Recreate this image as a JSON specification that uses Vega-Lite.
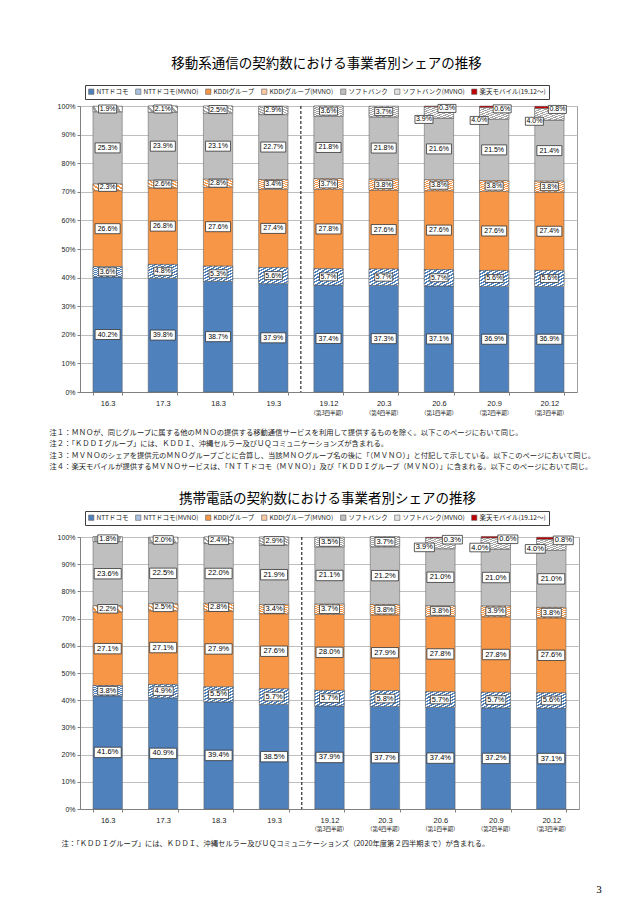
{
  "$schema": "https://vega.github.io/schema/vega-lite/v6.json",
  "background": "white",
  "padding": {"left": 48, "top": 56, "right": 5, "bottom": 5},
  "spacing": 20,
  "resolve": {"scale": {"color": "independent", "x": "independent", "y": "independent"}, "legend": {"color": "independent"}},
  "title": {"text": "3", "orient": "bottom", "anchor": "end", "fontSize": 11, "font": "Liberation Serif", "fontWeight": "normal", "offset": 37, "dx": 5, "color": "#000"},
  "datasets": {
    "m": [
      {"p": "16.3", "k": "NTTドコモ", "v": 0.402}, {"p": "16.3", "k": "NTTドコモ(MVNO)", "v": 0.036}, {"p": "16.3", "k": "KDDIグループ", "v": 0.266}, {"p": "16.3", "k": "KDDIグループ(MVNO)", "v": 0.023}, {"p": "16.3", "k": "ソフトバンク", "v": 0.253}, {"p": "16.3", "k": "ソフトバンク(MVNO)", "v": 0.019},
      {"p": "17.3", "k": "NTTドコモ", "v": 0.398}, {"p": "17.3", "k": "NTTドコモ(MVNO)", "v": 0.048}, {"p": "17.3", "k": "KDDIグループ", "v": 0.268}, {"p": "17.3", "k": "KDDIグループ(MVNO)", "v": 0.026}, {"p": "17.3", "k": "ソフトバンク", "v": 0.239}, {"p": "17.3", "k": "ソフトバンク(MVNO)", "v": 0.021},
      {"p": "18.3", "k": "NTTドコモ", "v": 0.387}, {"p": "18.3", "k": "NTTドコモ(MVNO)", "v": 0.053}, {"p": "18.3", "k": "KDDIグループ", "v": 0.276}, {"p": "18.3", "k": "KDDIグループ(MVNO)", "v": 0.028}, {"p": "18.3", "k": "ソフトバンク", "v": 0.231}, {"p": "18.3", "k": "ソフトバンク(MVNO)", "v": 0.025},
      {"p": "19.3", "k": "NTTドコモ", "v": 0.379}, {"p": "19.3", "k": "NTTドコモ(MVNO)", "v": 0.056}, {"p": "19.3", "k": "KDDIグループ", "v": 0.274}, {"p": "19.3", "k": "KDDIグループ(MVNO)", "v": 0.034}, {"p": "19.3", "k": "ソフトバンク", "v": 0.227}, {"p": "19.3", "k": "ソフトバンク(MVNO)", "v": 0.029},
      {"p": "19.12", "k": "NTTドコモ", "v": 0.374}, {"p": "19.12", "k": "NTTドコモ(MVNO)", "v": 0.057}, {"p": "19.12", "k": "KDDIグループ", "v": 0.278}, {"p": "19.12", "k": "KDDIグループ(MVNO)", "v": 0.037}, {"p": "19.12", "k": "ソフトバンク", "v": 0.218}, {"p": "19.12", "k": "ソフトバンク(MVNO)", "v": 0.036},
      {"p": "20.3", "k": "NTTドコモ", "v": 0.373}, {"p": "20.3", "k": "NTTドコモ(MVNO)", "v": 0.057}, {"p": "20.3", "k": "KDDIグループ", "v": 0.276}, {"p": "20.3", "k": "KDDIグループ(MVNO)", "v": 0.038}, {"p": "20.3", "k": "ソフトバンク", "v": 0.218}, {"p": "20.3", "k": "ソフトバンク(MVNO)", "v": 0.037},
      {"p": "20.6", "k": "NTTドコモ", "v": 0.371}, {"p": "20.6", "k": "NTTドコモ(MVNO)", "v": 0.057}, {"p": "20.6", "k": "KDDIグループ", "v": 0.276}, {"p": "20.6", "k": "KDDIグループ(MVNO)", "v": 0.038}, {"p": "20.6", "k": "ソフトバンク", "v": 0.216}, {"p": "20.6", "k": "ソフトバンク(MVNO)", "v": 0.039}, {"p": "20.6", "k": "楽天モバイル(19.12〜)", "v": 0.003},
      {"p": "20.9", "k": "NTTドコモ", "v": 0.369}, {"p": "20.9", "k": "NTTドコモ(MVNO)", "v": 0.056}, {"p": "20.9", "k": "KDDIグループ", "v": 0.276}, {"p": "20.9", "k": "KDDIグループ(MVNO)", "v": 0.038}, {"p": "20.9", "k": "ソフトバンク", "v": 0.215}, {"p": "20.9", "k": "ソフトバンク(MVNO)", "v": 0.040}, {"p": "20.9", "k": "楽天モバイル(19.12〜)", "v": 0.006},
      {"p": "20.12", "k": "NTTドコモ", "v": 0.369}, {"p": "20.12", "k": "NTTドコモ(MVNO)", "v": 0.056}, {"p": "20.12", "k": "KDDIグループ", "v": 0.274}, {"p": "20.12", "k": "KDDIグループ(MVNO)", "v": 0.038}, {"p": "20.12", "k": "ソフトバンク", "v": 0.214}, {"p": "20.12", "k": "ソフトバンク(MVNO)", "v": 0.040}, {"p": "20.12", "k": "楽天モバイル(19.12〜)", "v": 0.008}
    ],
    "t": [
      {"p": "16.3", "k": "NTTドコモ", "v": 0.416}, {"p": "16.3", "k": "NTTドコモ(MVNO)", "v": 0.038}, {"p": "16.3", "k": "KDDIグループ", "v": 0.271}, {"p": "16.3", "k": "KDDIグループ(MVNO)", "v": 0.022}, {"p": "16.3", "k": "ソフトバンク", "v": 0.236}, {"p": "16.3", "k": "ソフトバンク(MVNO)", "v": 0.018},
      {"p": "17.3", "k": "NTTドコモ", "v": 0.409}, {"p": "17.3", "k": "NTTドコモ(MVNO)", "v": 0.049}, {"p": "17.3", "k": "KDDIグループ", "v": 0.271}, {"p": "17.3", "k": "KDDIグループ(MVNO)", "v": 0.025}, {"p": "17.3", "k": "ソフトバンク", "v": 0.225}, {"p": "17.3", "k": "ソフトバンク(MVNO)", "v": 0.020},
      {"p": "18.3", "k": "NTTドコモ", "v": 0.394}, {"p": "18.3", "k": "NTTドコモ(MVNO)", "v": 0.055}, {"p": "18.3", "k": "KDDIグループ", "v": 0.279}, {"p": "18.3", "k": "KDDIグループ(MVNO)", "v": 0.028}, {"p": "18.3", "k": "ソフトバンク", "v": 0.220}, {"p": "18.3", "k": "ソフトバンク(MVNO)", "v": 0.024},
      {"p": "19.3", "k": "NTTドコモ", "v": 0.385}, {"p": "19.3", "k": "NTTドコモ(MVNO)", "v": 0.057}, {"p": "19.3", "k": "KDDIグループ", "v": 0.276}, {"p": "19.3", "k": "KDDIグループ(MVNO)", "v": 0.034}, {"p": "19.3", "k": "ソフトバンク", "v": 0.219}, {"p": "19.3", "k": "ソフトバンク(MVNO)", "v": 0.029},
      {"p": "19.12", "k": "NTTドコモ", "v": 0.379}, {"p": "19.12", "k": "NTTドコモ(MVNO)", "v": 0.057}, {"p": "19.12", "k": "KDDIグループ", "v": 0.280}, {"p": "19.12", "k": "KDDIグループ(MVNO)", "v": 0.037}, {"p": "19.12", "k": "ソフトバンク", "v": 0.211}, {"p": "19.12", "k": "ソフトバンク(MVNO)", "v": 0.035},
      {"p": "20.3", "k": "NTTドコモ", "v": 0.377}, {"p": "20.3", "k": "NTTドコモ(MVNO)", "v": 0.058}, {"p": "20.3", "k": "KDDIグループ", "v": 0.279}, {"p": "20.3", "k": "KDDIグループ(MVNO)", "v": 0.038}, {"p": "20.3", "k": "ソフトバンク", "v": 0.212}, {"p": "20.3", "k": "ソフトバンク(MVNO)", "v": 0.037},
      {"p": "20.6", "k": "NTTドコモ", "v": 0.374}, {"p": "20.6", "k": "NTTドコモ(MVNO)", "v": 0.057}, {"p": "20.6", "k": "KDDIグループ", "v": 0.278}, {"p": "20.6", "k": "KDDIグループ(MVNO)", "v": 0.038}, {"p": "20.6", "k": "ソフトバンク", "v": 0.210}, {"p": "20.6", "k": "ソフトバンク(MVNO)", "v": 0.039}, {"p": "20.6", "k": "楽天モバイル(19.12〜)", "v": 0.003},
      {"p": "20.9", "k": "NTTドコモ", "v": 0.372}, {"p": "20.9", "k": "NTTドコモ(MVNO)", "v": 0.057}, {"p": "20.9", "k": "KDDIグループ", "v": 0.278}, {"p": "20.9", "k": "KDDIグループ(MVNO)", "v": 0.039}, {"p": "20.9", "k": "ソフトバンク", "v": 0.210}, {"p": "20.9", "k": "ソフトバンク(MVNO)", "v": 0.040}, {"p": "20.9", "k": "楽天モバイル(19.12〜)", "v": 0.006},
      {"p": "20.12", "k": "NTTドコモ", "v": 0.371}, {"p": "20.12", "k": "NTTドコモ(MVNO)", "v": 0.056}, {"p": "20.12", "k": "KDDIグループ", "v": 0.276}, {"p": "20.12", "k": "KDDIグループ(MVNO)", "v": 0.038}, {"p": "20.12", "k": "ソフトバンク", "v": 0.210}, {"p": "20.12", "k": "ソフトバンク(MVNO)", "v": 0.040}, {"p": "20.12", "k": "楽天モバイル(19.12〜)", "v": 0.008}
    ],
    "sub": [
      {"p": "19.12", "s": "（第3四半期）"}, {"p": "20.3", "s": "（第4四半期）"}, {"p": "20.6", "s": "（第1四半期）"}, {"p": "20.9", "s": "（第2四半期）"}, {"p": "20.12", "s": "（第3四半期）"}
    ],
    "div": [{"p": "19.12"}]
  },
  "vconcat": [
    {
      "title": {"text": "移動系通信の契約数における事業者別シェアの推移", "fontSize": 13.5, "font": "Noto Sans CJK JP", "fontWeight": "normal", "color": "#000", "frame": "group", "anchor": "middle", "offset": 14, "dx": -2},
      "width": 497,
      "height": 286,
      "data": {"name": "m"},
      "transform": [{"stack": "v", "groupby": ["p"], "as": ["y0", "y1"]}, {"calculate": "(datum.y0+datum.y1)/2", "as": "mid"}],
      "encoding": {
        "x": {"field": "p", "type": "nominal",
          "scale": {"domain": ["16.3", "17.3", "18.3", "19.3", "19.12", "20.3", "20.6", "20.9", "20.12"], "paddingInner": 0.47, "paddingOuter": 0.235},
          "axis": {"labelAngle": 0, "labelFontSize": 7.5, "labelFont": "Liberation Sans", "labelColor": "#222", "tickBand": "extent", "tickSize": 3, "tickColor": "#808080", "domainColor": "#808080", "labelPadding": 4,
            "title": ["注１：ＭＮＯが、同じグループに属する他のＭＮＯの提供する移動通信サービスを利用して提供するものを除く。以下このページにおいて同じ。", "注２：「ＫＤＤＩグループ」には、ＫＤＤＩ、沖縄セルラー及びＵＱコミュニケーションズが含まれる。", "注３：ＭＶＮＯのシェアを提供元のＭＮＯグループごとに合算し、当該ＭＮＯグループ名の後に「（ＭＶＮＯ）」と付記して示している。以下このページにおいて同じ。", "注４：楽天モバイルが提供するＭＶＮＯサービスは、「ＮＴＴドコモ（ＭＶＮＯ）」及び「ＫＤＤＩグループ（ＭＶＮＯ）」に含まれる。以下このページにおいて同じ。"],
            "titleAlign": "left", "titleAnchor": "start", "titleX": -31, "titleY": 36, "titleBaseline": "top", "titleFontSize": 7.3, "titleFont": "Noto Sans CJK JP", "titleFontWeight": "normal", "titleColor": "#222", "titleLineHeight": 11.5}}
      },
      "layer": [
        {
          "mark": {"type": "bar", "stroke": "#5a5a5a", "strokeWidth": 0.5},
          "encoding": {
            "y": {"field": "y0", "type": "quantitative", "title": null, "scale": {"domain": [0, 1], "nice": false},
              "axis": {"format": "%", "values": [0, 0.1, 0.2, 0.3, 0.4, 0.5, 0.6, 0.7, 0.8, 0.9, 1], "tickCount": 20, "labelOverlap": false, "labelFontSize": 7, "labelFont": "Liberation Sans", "labelColor": "#222", "tickSize": 3, "tickColor": "#808080", "domainColor": "#808080", "gridColor": "#bfbfbf", "labelPadding": 2}},
            "y2": {"field": "y1"},
            "color": {"field": "k", "type": "nominal", "title": null,
              "scale": {"domain": ["NTTドコモ", "NTTドコモ(MVNO)", "KDDIグループ", "KDDIグループ(MVNO)", "ソフトバンク", "ソフトバンク(MVNO)", "楽天モバイル(19.12〜)"], "range": ["#4f81bd", "#a9c1e0", "#f79646", "#fbcaa2", "#bfbfbf", "#e2e2e2", "#c00000"]},
              "legend": {"orient": "none", "legendX": 5, "legendY": -21, "direction": "horizontal", "columns": 7, "strokeColor": "#404040", "fillColor": "#ffffff", "padding": 3, "labelFontSize": 6.5, "labelFont": "Noto Sans CJK JP", "labelColor": "#222", "symbolType": "square", "symbolSize": 28, "symbolStrokeColor": "#606060", "symbolStrokeWidth": 0.6, "columnPadding": 5, "labelOffset": 2, "labelLimit": 200}}
          }
        },
        {
          "transform": [{"filter": "indexof(datum.k, 'MVNO') >= 0"}],
          "mark": {"type": "bar", "stroke": "#5a5a5a", "strokeWidth": 0.5},
          "encoding": {
            "y": {"field": "y0", "type": "quantitative", "title": null},
            "y2": {"field": "y1"},
            "fill": {
              "condition": [
                {"test": "datum.k === 'NTTドコモ(MVNO)'", "value": {"gradient": "linear", "x1": 0, "y1": 0, "x2": 1, "y2": 1, "stops": [
                  {"offset": 0, "color": "#4f81bd"}, {"offset": 0.05, "color": "#4f81bd"}, {"offset": 0.05, "color": "#ffffff"}, {"offset": 0.1, "color": "#ffffff"},
                  {"offset": 0.1, "color": "#4f81bd"}, {"offset": 0.15, "color": "#4f81bd"}, {"offset": 0.15, "color": "#ffffff"}, {"offset": 0.2, "color": "#ffffff"},
                  {"offset": 0.2, "color": "#4f81bd"}, {"offset": 0.25, "color": "#4f81bd"}, {"offset": 0.25, "color": "#ffffff"}, {"offset": 0.3, "color": "#ffffff"},
                  {"offset": 0.3, "color": "#4f81bd"}, {"offset": 0.35, "color": "#4f81bd"}, {"offset": 0.35, "color": "#ffffff"}, {"offset": 0.4, "color": "#ffffff"},
                  {"offset": 0.4, "color": "#4f81bd"}, {"offset": 0.45, "color": "#4f81bd"}, {"offset": 0.45, "color": "#ffffff"}, {"offset": 0.5, "color": "#ffffff"},
                  {"offset": 0.5, "color": "#4f81bd"}, {"offset": 0.55, "color": "#4f81bd"}, {"offset": 0.55, "color": "#ffffff"}, {"offset": 0.6, "color": "#ffffff"},
                  {"offset": 0.6, "color": "#4f81bd"}, {"offset": 0.65, "color": "#4f81bd"}, {"offset": 0.65, "color": "#ffffff"}, {"offset": 0.7, "color": "#ffffff"},
                  {"offset": 0.7, "color": "#4f81bd"}, {"offset": 0.75, "color": "#4f81bd"}, {"offset": 0.75, "color": "#ffffff"}, {"offset": 0.8, "color": "#ffffff"},
                  {"offset": 0.8, "color": "#4f81bd"}, {"offset": 0.85, "color": "#4f81bd"}, {"offset": 0.85, "color": "#ffffff"}, {"offset": 0.9, "color": "#ffffff"},
                  {"offset": 0.9, "color": "#4f81bd"}, {"offset": 0.95, "color": "#4f81bd"}, {"offset": 0.95, "color": "#ffffff"}, {"offset": 1, "color": "#ffffff"}]}},
                {"test": "datum.k === 'KDDIグループ(MVNO)'", "value": {"gradient": "linear", "x1": 0, "y1": 0, "x2": 1, "y2": 1, "stops": [
                  {"offset": 0, "color": "#f79646"}, {"offset": 0.05, "color": "#f79646"}, {"offset": 0.05, "color": "#ffffff"}, {"offset": 0.1, "color": "#ffffff"},
                  {"offset": 0.1, "color": "#f79646"}, {"offset": 0.15, "color": "#f79646"}, {"offset": 0.15, "color": "#ffffff"}, {"offset": 0.2, "color": "#ffffff"},
                  {"offset": 0.2, "color": "#f79646"}, {"offset": 0.25, "color": "#f79646"}, {"offset": 0.25, "color": "#ffffff"}, {"offset": 0.3, "color": "#ffffff"},
                  {"offset": 0.3, "color": "#f79646"}, {"offset": 0.35, "color": "#f79646"}, {"offset": 0.35, "color": "#ffffff"}, {"offset": 0.4, "color": "#ffffff"},
                  {"offset": 0.4, "color": "#f79646"}, {"offset": 0.45, "color": "#f79646"}, {"offset": 0.45, "color": "#ffffff"}, {"offset": 0.5, "color": "#ffffff"},
                  {"offset": 0.5, "color": "#f79646"}, {"offset": 0.55, "color": "#f79646"}, {"offset": 0.55, "color": "#ffffff"}, {"offset": 0.6, "color": "#ffffff"},
                  {"offset": 0.6, "color": "#f79646"}, {"offset": 0.65, "color": "#f79646"}, {"offset": 0.65, "color": "#ffffff"}, {"offset": 0.7, "color": "#ffffff"},
                  {"offset": 0.7, "color": "#f79646"}, {"offset": 0.75, "color": "#f79646"}, {"offset": 0.75, "color": "#ffffff"}, {"offset": 0.8, "color": "#ffffff"},
                  {"offset": 0.8, "color": "#f79646"}, {"offset": 0.85, "color": "#f79646"}, {"offset": 0.85, "color": "#ffffff"}, {"offset": 0.9, "color": "#ffffff"},
                  {"offset": 0.9, "color": "#f79646"}, {"offset": 0.95, "color": "#f79646"}, {"offset": 0.95, "color": "#ffffff"}, {"offset": 1, "color": "#ffffff"}]}}
              ],
              "value": {"gradient": "linear", "x1": 0, "y1": 0, "x2": 1, "y2": 1, "stops": [
                  {"offset": 0, "color": "#a6a6a6"}, {"offset": 0.05, "color": "#a6a6a6"}, {"offset": 0.05, "color": "#ffffff"}, {"offset": 0.1, "color": "#ffffff"},
                  {"offset": 0.1, "color": "#a6a6a6"}, {"offset": 0.15, "color": "#a6a6a6"}, {"offset": 0.15, "color": "#ffffff"}, {"offset": 0.2, "color": "#ffffff"},
                  {"offset": 0.2, "color": "#a6a6a6"}, {"offset": 0.25, "color": "#a6a6a6"}, {"offset": 0.25, "color": "#ffffff"}, {"offset": 0.3, "color": "#ffffff"},
                  {"offset": 0.3, "color": "#a6a6a6"}, {"offset": 0.35, "color": "#a6a6a6"}, {"offset": 0.35, "color": "#ffffff"}, {"offset": 0.4, "color": "#ffffff"},
                  {"offset": 0.4, "color": "#a6a6a6"}, {"offset": 0.45, "color": "#a6a6a6"}, {"offset": 0.45, "color": "#ffffff"}, {"offset": 0.5, "color": "#ffffff"},
                  {"offset": 0.5, "color": "#a6a6a6"}, {"offset": 0.55, "color": "#a6a6a6"}, {"offset": 0.55, "color": "#ffffff"}, {"offset": 0.6, "color": "#ffffff"},
                  {"offset": 0.6, "color": "#a6a6a6"}, {"offset": 0.65, "color": "#a6a6a6"}, {"offset": 0.65, "color": "#ffffff"}, {"offset": 0.7, "color": "#ffffff"},
                  {"offset": 0.7, "color": "#a6a6a6"}, {"offset": 0.75, "color": "#a6a6a6"}, {"offset": 0.75, "color": "#ffffff"}, {"offset": 0.8, "color": "#ffffff"},
                  {"offset": 0.8, "color": "#a6a6a6"}, {"offset": 0.85, "color": "#a6a6a6"}, {"offset": 0.85, "color": "#ffffff"}, {"offset": 0.9, "color": "#ffffff"},
                  {"offset": 0.9, "color": "#a6a6a6"}, {"offset": 0.95, "color": "#a6a6a6"}, {"offset": 0.95, "color": "#ffffff"}, {"offset": 1, "color": "#ffffff"}]}
            }
          }
        },
        {
          "data": {"name": "div"},
          "mark": {"type": "rule", "strokeDash": [3, 2], "color": "#000000", "strokeWidth": 1, "xOffset": -13},
          "encoding": {"x": {"field": "p", "type": "nominal", "bandPosition": 0}}
        },
        {
          "transform": [{"filter": "datum.k !== '楽天モバイル(19.12〜)' && !(datum.k === 'ソフトバンク(MVNO)' && indexof(['20.6', '20.9', '20.12'], datum.p) >= 0)"}],
          "mark": {"type": "point", "filled": true, "fill": "#ffffff", "stroke": "#333333", "strokeWidth": 0.8, "opacity": 1, "size": 4},
          "encoding": {
            "y": {"field": "mid", "type": "quantitative", "title": null},
            "shape": {"condition": {"test": "datum.v >= 0.1", "value": "M-12.5,-5L12.5,-5L12.5,5L-12.5,5Z"}, "value": "M-9,-4L9,-4L9,4L-9,4Z"}
          }
        },
        {
          "transform": [{"filter": "datum.k !== '楽天モバイル(19.12〜)' && !(datum.k === 'ソフトバンク(MVNO)' && indexof(['20.6', '20.9', '20.12'], datum.p) >= 0)"}],
          "mark": {"type": "text", "fontSize": 7, "font": "Liberation Sans", "color": "#000000", "baseline": "middle"},
          "encoding": {
            "y": {"field": "mid", "type": "quantitative", "title": null},
            "text": {"field": "v", "type": "quantitative", "format": ".1%"}
          }
        },
        {
          "transform": [{"filter": "datum.k === 'ソフトバンク(MVNO)' && indexof(['20.6', '20.9', '20.12'], datum.p) >= 0"}],
          "mark": {"type": "point", "filled": true, "fill": "#ffffff", "stroke": "#333333", "strokeWidth": 0.8, "opacity": 1, "size": 4, "shape": "M-9,-4L9,-4L9,4L-9,4Z", "xOffset": -15, "yOffset": 7},
          "encoding": {"y": {"field": "mid", "type": "quantitative", "title": null}}
        },
        {
          "transform": [{"filter": "datum.k === 'ソフトバンク(MVNO)' && indexof(['20.6', '20.9', '20.12'], datum.p) >= 0"}],
          "mark": {"type": "text", "fontSize": 7, "font": "Liberation Sans", "color": "#000000", "baseline": "middle", "dx": -15, "dy": 7},
          "encoding": {
            "y": {"field": "mid", "type": "quantitative", "title": null},
            "text": {"field": "v", "type": "quantitative", "format": ".1%"}
          }
        },
        {
          "transform": [{"filter": "datum.k === '楽天モバイル(19.12〜)'"}],
          "mark": {"type": "point", "filled": true, "fill": "#ffffff", "stroke": "#333333", "strokeWidth": 0.8, "opacity": 1, "size": 4, "shape": "M-9,-4L9,-4L9,4L-9,4Z", "xOffset": 8, "yOffset": 2},
          "encoding": {"y": {"field": "mid", "type": "quantitative", "title": null}}
        },
        {
          "transform": [{"filter": "datum.k === '楽天モバイル(19.12〜)'"}],
          "mark": {"type": "text", "fontSize": 7, "font": "Liberation Sans", "color": "#000000", "baseline": "middle", "dx": 8, "dy": 2},
          "encoding": {
            "y": {"field": "mid", "type": "quantitative", "title": null},
            "text": {"field": "v", "type": "quantitative", "format": ".1%"}
          }
        },
        {
          "data": {"name": "sub"},
          "mark": {"type": "text", "fontSize": 5.5, "font": "Noto Sans CJK JP", "color": "#222222", "baseline": "middle", "dy": 21},
          "encoding": {
            "y": {"datum": 0, "type": "quantitative"},
            "text": {"field": "s"}
          }
        }
      ]
    },
    {
      "title": {"text": "携帯電話の契約数における事業者別シェアの推移", "fontSize": 13.5, "font": "Noto Sans CJK JP", "fontWeight": "normal", "color": "#000", "frame": "group", "anchor": "middle", "offset": 5, "dx": -2},
      "width": 499,
      "height": 272,
      "data": {"name": "t"},
      "transform": [{"stack": "v", "groupby": ["p"], "as": ["y0", "y1"]}, {"calculate": "(datum.y0+datum.y1)/2", "as": "mid"}],
      "encoding": {
        "x": {"field": "p", "type": "nominal",
          "scale": {"domain": ["16.3", "17.3", "18.3", "19.3", "19.12", "20.3", "20.6", "20.9", "20.12"], "paddingInner": 0.47, "paddingOuter": 0.235},
          "axis": {"labelAngle": 0, "labelFontSize": 7.5, "labelFont": "Liberation Sans", "labelColor": "#222", "tickBand": "extent", "tickSize": 3, "tickColor": "#808080", "domainColor": "#808080", "labelPadding": 4,
            "title": "注：「ＫＤＤＩグループ」には、ＫＤＤＩ、沖縄セルラー及びＵＱコミュニケーションズ（2020年度第２四半期まで）が含まれる。",
            "titleAlign": "left", "titleAnchor": "start", "titleX": -19, "titleY": 30, "titleBaseline": "top", "titleFontSize": 7.3, "titleFont": "Noto Sans CJK JP", "titleFontWeight": "normal", "titleColor": "#222", "titleLineHeight": 11.5}}
      },
      "layer": [
        {
          "mark": {"type": "bar", "stroke": "#5a5a5a", "strokeWidth": 0.5},
          "encoding": {
            "y": {"field": "y0", "type": "quantitative", "title": null, "scale": {"domain": [0, 1], "nice": false},
              "axis": {"format": "%", "values": [0, 0.1, 0.2, 0.3, 0.4, 0.5, 0.6, 0.7, 0.8, 0.9, 1], "tickCount": 20, "labelOverlap": false, "labelFontSize": 7, "labelFont": "Liberation Sans", "labelColor": "#222", "tickSize": 3, "tickColor": "#808080", "domainColor": "#808080", "gridColor": "#bfbfbf", "labelPadding": 2}},
            "y2": {"field": "y1"},
            "color": {"field": "k", "type": "nominal", "title": null,
              "scale": {"domain": ["NTTドコモ", "NTTドコモ(MVNO)", "KDDIグループ", "KDDIグループ(MVNO)", "ソフトバンク", "ソフトバンク(MVNO)", "楽天モバイル(19.12〜)"], "range": ["#4f81bd", "#a9c1e0", "#f79646", "#fbcaa2", "#bfbfbf", "#e2e2e2", "#c00000"]},
              "legend": {"orient": "none", "legendX": 5, "legendY": -26, "direction": "horizontal", "columns": 7, "strokeColor": "#404040", "fillColor": "#ffffff", "padding": 3, "labelFontSize": 6.5, "labelFont": "Noto Sans CJK JP", "labelColor": "#222", "symbolType": "square", "symbolSize": 28, "symbolStrokeColor": "#606060", "symbolStrokeWidth": 0.6, "columnPadding": 5, "labelOffset": 2, "labelLimit": 200}}
          }
        },
        {
          "transform": [{"filter": "indexof(datum.k, 'MVNO') >= 0"}],
          "mark": {"type": "bar", "stroke": "#5a5a5a", "strokeWidth": 0.5},
          "encoding": {
            "y": {"field": "y0", "type": "quantitative", "title": null},
            "y2": {"field": "y1"},
            "fill": {
              "condition": [
                {"test": "datum.k === 'NTTドコモ(MVNO)'", "value": {"gradient": "linear", "x1": 0, "y1": 0, "x2": 1, "y2": 1, "stops": [
                  {"offset": 0, "color": "#4f81bd"}, {"offset": 0.05, "color": "#4f81bd"}, {"offset": 0.05, "color": "#ffffff"}, {"offset": 0.1, "color": "#ffffff"},
                  {"offset": 0.1, "color": "#4f81bd"}, {"offset": 0.15, "color": "#4f81bd"}, {"offset": 0.15, "color": "#ffffff"}, {"offset": 0.2, "color": "#ffffff"},
                  {"offset": 0.2, "color": "#4f81bd"}, {"offset": 0.25, "color": "#4f81bd"}, {"offset": 0.25, "color": "#ffffff"}, {"offset": 0.3, "color": "#ffffff"},
                  {"offset": 0.3, "color": "#4f81bd"}, {"offset": 0.35, "color": "#4f81bd"}, {"offset": 0.35, "color": "#ffffff"}, {"offset": 0.4, "color": "#ffffff"},
                  {"offset": 0.4, "color": "#4f81bd"}, {"offset": 0.45, "color": "#4f81bd"}, {"offset": 0.45, "color": "#ffffff"}, {"offset": 0.5, "color": "#ffffff"},
                  {"offset": 0.5, "color": "#4f81bd"}, {"offset": 0.55, "color": "#4f81bd"}, {"offset": 0.55, "color": "#ffffff"}, {"offset": 0.6, "color": "#ffffff"},
                  {"offset": 0.6, "color": "#4f81bd"}, {"offset": 0.65, "color": "#4f81bd"}, {"offset": 0.65, "color": "#ffffff"}, {"offset": 0.7, "color": "#ffffff"},
                  {"offset": 0.7, "color": "#4f81bd"}, {"offset": 0.75, "color": "#4f81bd"}, {"offset": 0.75, "color": "#ffffff"}, {"offset": 0.8, "color": "#ffffff"},
                  {"offset": 0.8, "color": "#4f81bd"}, {"offset": 0.85, "color": "#4f81bd"}, {"offset": 0.85, "color": "#ffffff"}, {"offset": 0.9, "color": "#ffffff"},
                  {"offset": 0.9, "color": "#4f81bd"}, {"offset": 0.95, "color": "#4f81bd"}, {"offset": 0.95, "color": "#ffffff"}, {"offset": 1, "color": "#ffffff"}]}},
                {"test": "datum.k === 'KDDIグループ(MVNO)'", "value": {"gradient": "linear", "x1": 0, "y1": 0, "x2": 1, "y2": 1, "stops": [
                  {"offset": 0, "color": "#f79646"}, {"offset": 0.05, "color": "#f79646"}, {"offset": 0.05, "color": "#ffffff"}, {"offset": 0.1, "color": "#ffffff"},
                  {"offset": 0.1, "color": "#f79646"}, {"offset": 0.15, "color": "#f79646"}, {"offset": 0.15, "color": "#ffffff"}, {"offset": 0.2, "color": "#ffffff"},
                  {"offset": 0.2, "color": "#f79646"}, {"offset": 0.25, "color": "#f79646"}, {"offset": 0.25, "color": "#ffffff"}, {"offset": 0.3, "color": "#ffffff"},
                  {"offset": 0.3, "color": "#f79646"}, {"offset": 0.35, "color": "#f79646"}, {"offset": 0.35, "color": "#ffffff"}, {"offset": 0.4, "color": "#ffffff"},
                  {"offset": 0.4, "color": "#f79646"}, {"offset": 0.45, "color": "#f79646"}, {"offset": 0.45, "color": "#ffffff"}, {"offset": 0.5, "color": "#ffffff"},
                  {"offset": 0.5, "color": "#f79646"}, {"offset": 0.55, "color": "#f79646"}, {"offset": 0.55, "color": "#ffffff"}, {"offset": 0.6, "color": "#ffffff"},
                  {"offset": 0.6, "color": "#f79646"}, {"offset": 0.65, "color": "#f79646"}, {"offset": 0.65, "color": "#ffffff"}, {"offset": 0.7, "color": "#ffffff"},
                  {"offset": 0.7, "color": "#f79646"}, {"offset": 0.75, "color": "#f79646"}, {"offset": 0.75, "color": "#ffffff"}, {"offset": 0.8, "color": "#ffffff"},
                  {"offset": 0.8, "color": "#f79646"}, {"offset": 0.85, "color": "#f79646"}, {"offset": 0.85, "color": "#ffffff"}, {"offset": 0.9, "color": "#ffffff"},
                  {"offset": 0.9, "color": "#f79646"}, {"offset": 0.95, "color": "#f79646"}, {"offset": 0.95, "color": "#ffffff"}, {"offset": 1, "color": "#ffffff"}]}}
              ],
              "value": {"gradient": "linear", "x1": 0, "y1": 0, "x2": 1, "y2": 1, "stops": [
                  {"offset": 0, "color": "#a6a6a6"}, {"offset": 0.05, "color": "#a6a6a6"}, {"offset": 0.05, "color": "#ffffff"}, {"offset": 0.1, "color": "#ffffff"},
                  {"offset": 0.1, "color": "#a6a6a6"}, {"offset": 0.15, "color": "#a6a6a6"}, {"offset": 0.15, "color": "#ffffff"}, {"offset": 0.2, "color": "#ffffff"},
                  {"offset": 0.2, "color": "#a6a6a6"}, {"offset": 0.25, "color": "#a6a6a6"}, {"offset": 0.25, "color": "#ffffff"}, {"offset": 0.3, "color": "#ffffff"},
                  {"offset": 0.3, "color": "#a6a6a6"}, {"offset": 0.35, "color": "#a6a6a6"}, {"offset": 0.35, "color": "#ffffff"}, {"offset": 0.4, "color": "#ffffff"},
                  {"offset": 0.4, "color": "#a6a6a6"}, {"offset": 0.45, "color": "#a6a6a6"}, {"offset": 0.45, "color": "#ffffff"}, {"offset": 0.5, "color": "#ffffff"},
                  {"offset": 0.5, "color": "#a6a6a6"}, {"offset": 0.55, "color": "#a6a6a6"}, {"offset": 0.55, "color": "#ffffff"}, {"offset": 0.6, "color": "#ffffff"},
                  {"offset": 0.6, "color": "#a6a6a6"}, {"offset": 0.65, "color": "#a6a6a6"}, {"offset": 0.65, "color": "#ffffff"}, {"offset": 0.7, "color": "#ffffff"},
                  {"offset": 0.7, "color": "#a6a6a6"}, {"offset": 0.75, "color": "#a6a6a6"}, {"offset": 0.75, "color": "#ffffff"}, {"offset": 0.8, "color": "#ffffff"},
                  {"offset": 0.8, "color": "#a6a6a6"}, {"offset": 0.85, "color": "#a6a6a6"}, {"offset": 0.85, "color": "#ffffff"}, {"offset": 0.9, "color": "#ffffff"},
                  {"offset": 0.9, "color": "#a6a6a6"}, {"offset": 0.95, "color": "#a6a6a6"}, {"offset": 0.95, "color": "#ffffff"}, {"offset": 1, "color": "#ffffff"}]}
            }
          }
        },
        {
          "data": {"name": "div"},
          "mark": {"type": "rule", "strokeDash": [3, 2], "color": "#000000", "strokeWidth": 1, "xOffset": -13},
          "encoding": {"x": {"field": "p", "type": "nominal", "bandPosition": 0}}
        },
        {
          "transform": [{"filter": "datum.k !== '楽天モバイル(19.12〜)' && !(datum.k === 'ソフトバンク(MVNO)' && indexof(['20.6', '20.9', '20.12'], datum.p) >= 0)"}],
          "mark": {"type": "point", "filled": true, "fill": "#ffffff", "stroke": "#333333", "strokeWidth": 0.8, "opacity": 1, "size": 4},
          "encoding": {
            "y": {"field": "mid", "type": "quantitative", "title": null},
            "shape": {"condition": {"test": "datum.v >= 0.1", "value": "M-13.5,-5.2L13.5,-5.2L13.5,5.2L-13.5,5.2Z"}, "value": "M-10,-4.3L10,-4.3L10,4.3L-10,4.3Z"}
          }
        },
        {
          "transform": [{"filter": "datum.k !== '楽天モバイル(19.12〜)' && !(datum.k === 'ソフトバンク(MVNO)' && indexof(['20.6', '20.9', '20.12'], datum.p) >= 0)"}],
          "mark": {"type": "text", "fontSize": 7.5, "font": "Liberation Sans", "color": "#000000", "baseline": "middle"},
          "encoding": {
            "y": {"field": "mid", "type": "quantitative", "title": null},
            "text": {"field": "v", "type": "quantitative", "format": ".1%"}
          }
        },
        {
          "transform": [{"filter": "datum.k === 'ソフトバンク(MVNO)' && indexof(['20.6', '20.9', '20.12'], datum.p) >= 0"}],
          "mark": {"type": "point", "filled": true, "fill": "#ffffff", "stroke": "#333333", "strokeWidth": 0.8, "opacity": 1, "size": 4, "shape": "M-10,-4.3L10,-4.3L10,4.3L-10,4.3Z", "xOffset": -16, "yOffset": 4},
          "encoding": {"y": {"field": "mid", "type": "quantitative", "title": null}}
        },
        {
          "transform": [{"filter": "datum.k === 'ソフトバンク(MVNO)' && indexof(['20.6', '20.9', '20.12'], datum.p) >= 0"}],
          "mark": {"type": "text", "fontSize": 7.5, "font": "Liberation Sans", "color": "#000000", "baseline": "middle", "dx": -16, "dy": 4},
          "encoding": {
            "y": {"field": "mid", "type": "quantitative", "title": null},
            "text": {"field": "v", "type": "quantitative", "format": ".1%"}
          }
        },
        {
          "transform": [{"filter": "datum.k === '楽天モバイル(19.12〜)'"}],
          "mark": {"type": "point", "filled": true, "fill": "#ffffff", "stroke": "#333333", "strokeWidth": 0.8, "opacity": 1, "size": 4, "shape": "M-10,-4.3L10,-4.3L10,4.3L-10,4.3Z", "xOffset": 12, "yOffset": 2},
          "encoding": {"y": {"field": "mid", "type": "quantitative", "title": null}}
        },
        {
          "transform": [{"filter": "datum.k === '楽天モバイル(19.12〜)'"}],
          "mark": {"type": "text", "fontSize": 7.5, "font": "Liberation Sans", "color": "#000000", "baseline": "middle", "dx": 12, "dy": 2},
          "encoding": {
            "y": {"field": "mid", "type": "quantitative", "title": null},
            "text": {"field": "v", "type": "quantitative", "format": ".1%"}
          }
        },
        {
          "data": {"name": "sub"},
          "mark": {"type": "text", "fontSize": 5.5, "font": "Noto Sans CJK JP", "color": "#222222", "baseline": "middle", "dy": 20},
          "encoding": {
            "y": {"datum": 0, "type": "quantitative"},
            "text": {"field": "s"}
          }
        }
      ]
    }
  ],
  "config": {
    "view": {"stroke": "#a0a0a0", "strokeWidth": 1},
    "font": "Liberation Sans",
    "axisY": {"tickCount": 20, "labelOverlap": false}
  }
}
